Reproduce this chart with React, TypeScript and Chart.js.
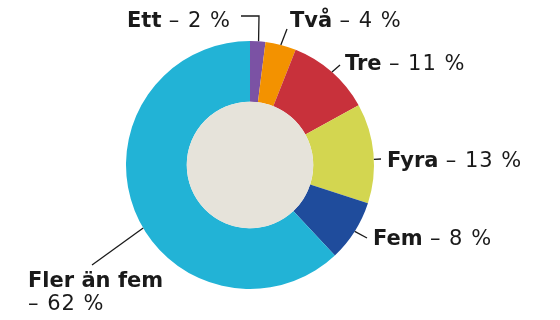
import React, { useEffect, useRef } from "react";
import { Chart, registerables } from "chart.js";

Chart.register(...registerables);

const categories = ["Ett", "Två", "Tre", "Fyra", "Fem", "Fler än fem"];
const values = [2, 4, 11, 13, 8, 62];
const valueLabels = ["– 2 %", "– 4 %", "– 11 %", "– 13 %", "– 8 %", "– 62 %"];
const colors = ["#7B52A4", "#F39200", "#C8313B", "#D3D650", "#1F4C9C", "#22B3D6"];
const holeColor = "#E6E3DA";

// annotation layout (text anchor, leader end, position along slice)
const labelLayout = [
  { x: 127, y: 27, t: 0.55, path: [[259, 16], [241, 16]], twoLine: false },
  { x: 290, y: 27, t: 0.5, path: [[287, 29]], twoLine: false },
  { x: 345, y: 70, t: 0.5, path: [[340, 65]], twoLine: false },
  { x: 387, y: 167, t: 0.56, path: [[381, 159]], twoLine: false },
  { x: 373, y: 245, t: 0.5, path: [[367, 238]], twoLine: false },
  { x: 28, y: 287, t: 0.46, path: [[92, 265]], twoLine: true },
];

const FONT = '"DejaVu Sans", sans-serif';
const FS = 21;

const labelPlugin = {
  id: "labels",
  afterDatasetsDraw(chart: any) {
    const ctx = chart.ctx;
    const meta = chart.getDatasetMeta(0);
    const first = meta.data[0];
    if (!first) return;
    ctx.save();
    ctx.fillStyle = holeColor;
    ctx.beginPath();
    ctx.arc(first.x, first.y, first.innerRadius, 0, Math.PI * 2);
    ctx.fill();
    ctx.restore();
  },
  afterDraw(chart: any) {
    const ctx = chart.ctx;
    const meta = chart.getDatasetMeta(0);
    ctx.save();
    ctx.strokeStyle = "#1a1a1a";
    ctx.lineWidth = 1.3;
    ctx.fillStyle = "#1a1a1a";
    ctx.textBaseline = "alphabetic";
    meta.data.forEach((arc: any, i: number) => {
      const L = labelLayout[i];
      const a = arc.startAngle + L.t * (arc.endAngle - arc.startAngle);
      const r = arc.outerRadius;
      const sx = arc.x + Math.cos(a) * r;
      const sy = arc.y + Math.sin(a) * r;
      ctx.beginPath();
      ctx.moveTo(sx, sy);
      L.path.forEach((p) => ctx.lineTo(p[0], p[1]));
      ctx.stroke();
      ctx.letterSpacing = "0px";
      ctx.font = `bold ${FS}px ${FONT}`;
      ctx.fillText(categories[i], L.x, L.y);
      const w = ctx.measureText(categories[i] + " ").width;
      ctx.font = `${FS}px ${FONT}`;
      ctx.letterSpacing = "1px";
      if (L.twoLine) {
        ctx.fillText(valueLabels[i], L.x, L.y + 23);
      } else {
        ctx.fillText(valueLabels[i], L.x + w, L.y);
      }
    });
    ctx.restore();
  },
};

export default function App() {
  const ref = useRef<HTMLCanvasElement>(null);
  useEffect(() => {
    document.body.style.margin = "0";
    const chart = new Chart(ref.current!, {
      type: "doughnut",
      data: {
        labels: categories,
        datasets: [
          {
            data: values,
            backgroundColor: colors,
            borderWidth: 0,
          },
        ],
      },
      options: {
        responsive: false,
        animation: false,
        cutout: "51%",
        layout: { padding: { left: 126, right: 186, top: 41, bottom: 31 } },
        plugins: { legend: { display: false }, tooltip: { enabled: false } },
      },
      plugins: [labelPlugin],
    });
    return () => chart.destroy();
  }, []);
  return (
    <div style={{ position: "absolute", left: 0, top: 0, width: 560, height: 320, background: "#fff" }}>
      <canvas ref={ref} width={560} height={320} />
    </div>
  );
}
